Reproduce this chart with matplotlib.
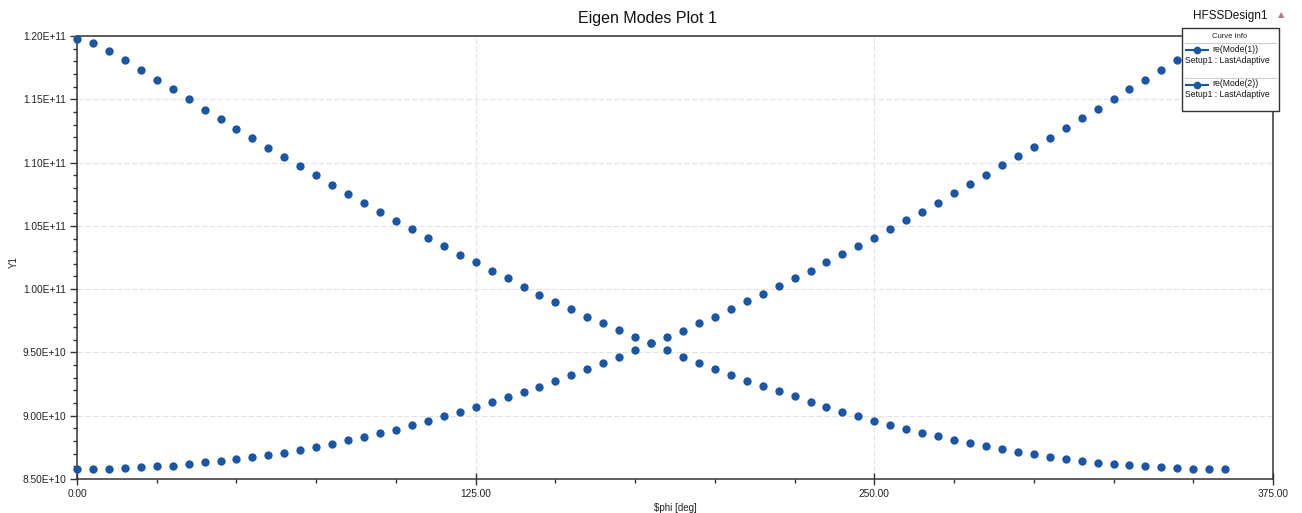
import matplotlib
matplotlib.use("Agg")
import matplotlib.pyplot as plt
from matplotlib.ticker import FuncFormatter, MultipleLocator
from matplotlib.lines import Line2D
from matplotlib.patches import Rectangle

plt.rcParams["font.family"] = ["Liberation Sans", "DejaVu Sans"]

# Sweep of $phi (deg) and eigenfrequencies (in units of 1E9)
phi_deg = list(range(0, 361, 5))

mode1_e9 = [
    119.79, 119.41, 118.80, 118.10, 117.31, 116.51, 115.82, 114.99, 114.17, 113.45,
    112.67, 111.96, 111.16, 110.42, 109.70, 108.98, 108.26, 107.55, 106.77, 106.10,
    105.41, 104.72, 104.08, 103.39, 102.73, 102.11, 101.45, 100.86, 100.19, 99.55,
    98.99, 98.41, 97.82, 97.31, 96.78, 96.19, 95.71, 95.17, 94.67, 94.18,
    93.68, 93.22, 92.77, 92.31, 91.92, 91.54, 91.08, 90.68, 90.28, 89.96,
    89.58, 89.26, 88.94, 88.67, 88.37, 88.10, 87.86, 87.59, 87.37, 87.13,
    86.94, 86.77, 86.59, 86.45, 86.30, 86.20, 86.08, 86.00, 85.91, 85.86,
    85.80, 85.80, 85.79,
]

mode2_e9 = [
    85.77, 85.76, 85.78, 85.85, 85.93, 86.00, 86.05, 86.15, 86.33, 86.43,
    86.55, 86.71, 86.86, 87.07, 87.32, 87.51, 87.79, 88.08, 88.31, 88.61,
    88.88, 89.24, 89.56, 89.94, 90.28, 90.67, 91.07, 91.51, 91.89, 92.29,
    92.75, 93.20, 93.67, 94.17, 94.64, 95.16, 95.71, 96.20, 96.73, 97.33,
    97.83, 98.43, 99.03, 99.60, 100.24, 100.91, 101.46, 102.12, 102.74, 103.43,
    104.08, 104.77, 105.44, 106.13, 106.81, 107.59, 108.30, 109.03, 109.77, 110.48,
    111.24, 111.97, 112.74, 113.49, 114.22, 115.04, 115.82, 116.56, 117.32, 118.11,
    118.80, 119.41, 119.79,
]

curve_names = ["re(Mode(1))", "re(Mode(2))"]
solution_name = "Setup1 : LastAdaptive"
x_ticks = [0, 125, 250, 375]
y_ticks_e9 = [85, 90, 95, 100, 105, 110, 115, 120]

W, H = 1302, 513
fig = plt.figure(figsize=(W / 100, H / 100), dpi=100)
fig.patch.set_facecolor("white")


def fx(px):
    return px / W


def fy(py):
    return 1 - py / H


left, right, top, bottom = 77, 1273, 36, 479
ax = fig.add_axes([fx(left), fy(bottom), fx(right - left), (bottom - top) / H])

dot_color = "#1b55a5"
mode1 = [v * 1e9 for v in mode1_e9]
mode2 = [v * 1e9 for v in mode2_e9]
ax.plot(phi_deg, mode1, linestyle="none", marker="o", markersize=6,
        color=dot_color, markeredgewidth=0, clip_on=False, zorder=3)
ax.plot(phi_deg, mode2, linestyle="none", marker="o", markersize=6,
        color=dot_color, markeredgewidth=0, clip_on=False, zorder=3)

ax.set_xlim(0, 375)
ax.set_ylim(8.5e10, 1.2e11)
ax.set_xticks(x_ticks)
ax.set_yticks([v * 1e9 for v in y_ticks_e9])
ax.xaxis.set_minor_locator(MultipleLocator(25))
ax.yaxis.set_minor_locator(MultipleLocator(1e9))
ax.xaxis.set_major_formatter(FuncFormatter(lambda v, p: f"{v:.2f}"))
ax.yaxis.set_major_formatter(FuncFormatter(lambda v, p: f"{v:.2E}"))

ax.tick_params(axis="both", which="major", labelsize=7.3, color="#333333",
               labelcolor="#222222", width=1.0)
ax.tick_params(axis="x", which="major", direction="inout", length=8, pad=3)
ax.tick_params(axis="x", which="minor", direction="out", length=3, width=1.0,
               color="#333333")
ax.tick_params(axis="y", which="major", direction="out", length=5, pad=3)
ax.tick_params(axis="y", which="minor", direction="out", length=3, width=1.0,
               color="#333333")

for s in ax.spines.values():
    s.set_color("#333333")
    s.set_linewidth(1.1)

ax.grid(True, which="major", color="#e2e2e2", linestyle=(0, (5, 2)),
        linewidth=0.8, zorder=0)
ax.set_axisbelow(True)

ax.set_xlabel("\\$phi [deg]", fontsize=7, color="#222222", labelpad=3)
fig.text(fx(14), fy(262), "Y1", fontsize=7, rotation=90, ha="center",
         va="center", color="#222222")

fig.text(fx(647), fy(19), "Eigen Modes Plot 1", fontsize=11.5,
         ha="center", va="center", color="#111111")
fig.text(fx(1230), fy(16), "HFSSDesign1", fontsize=8.5,
         ha="center", va="center", color="#111111")
fig.text(fx(1281), fy(15), "\u25B2", fontsize=6, ha="center", va="center",
         color="#b08080", family=["DejaVu Sans"])

# Curve info box
bx0, by0, bx1, by1 = 1182, 28, 1279, 111
fig.patches.append(Rectangle((fx(bx0), fy(by1)), fx(bx1 - bx0), (by1 - by0) / H,
                             transform=fig.transFigure, facecolor="white",
                             edgecolor="#333333", linewidth=1.0, zorder=10))
fig.text(fx(1230), fy(36), "Curve Info", fontsize=5.5, ha="center",
         va="center", color="#222222", zorder=11)
for sep_y in (43, 78):
    fig.add_artist(Line2D([fx(1185), fx(1276)], [fy(sep_y), fy(sep_y)],
                          color="#cccccc", linewidth=0.8, zorder=11))
for i, name in enumerate(curve_names):
    y0 = 50 + i * 34.5
    fig.add_artist(Line2D([fx(1186), fx(1208)], [fy(y0), fy(y0)],
                          color=dot_color, linewidth=1.5, zorder=11))
    fig.add_artist(Line2D([fx(1197)], [fy(y0)], marker="o", markersize=5.5,
                          color=dot_color, markeredgewidth=0, zorder=12))
    fig.text(fx(1212), fy(y0 - 0.5), name, fontsize=6.2, ha="left",
             va="center", color="#111111", zorder=11)
    fig.text(fx(1185), fy(y0 + 10.5), solution_name, fontsize=6.2, ha="left",
             va="center", color="#111111", zorder=11)

fig.savefig("out.png", dpi=100, facecolor="white")
